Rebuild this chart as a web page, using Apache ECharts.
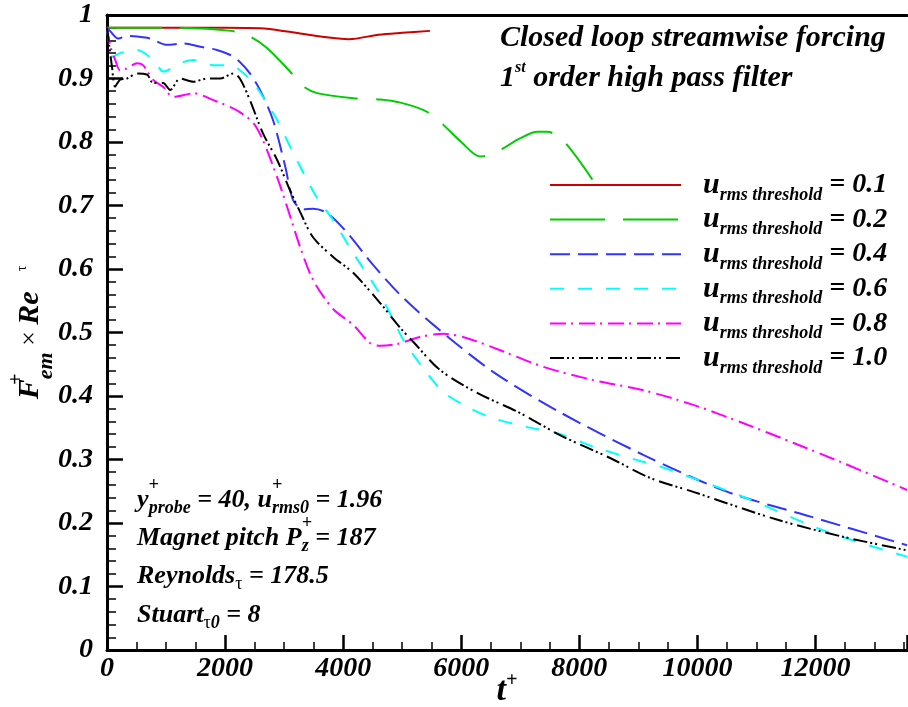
<!DOCTYPE html>
<html><head><meta charset="utf-8">
<script src="https://cdn.jsdelivr.net/npm/echarts@6/dist/echarts.min.js"></script>
<style>html,body{margin:0;padding:0;background:#fff}#c{width:908px;height:707px}</style>
</head><body><div id="c"></div>
<script>
// ---- data ----
const thresholds = ['0.1', '0.2', '0.4', '0.6', '0.8', '1.0'];
const seriesNames = thresholds.map(t => 'urms threshold = ' + t);
const xTickInterval = 2000;
const yTickInterval = 0.1;

const d01 = [[0,0.98],[1000,0.98],[2000,0.98],[2600,0.979],[3050,0.974],[3550,0.967],[4100,0.962],[4600,0.969],[5000,0.972],[5470,0.975]];
const d02 = [[0,0.98],[1000,0.98],[2100,0.975],[2420,0.966],[2710,0.948],[3100,0.911],[3320,0.888],[3560,0.877],[4170,0.869],[4630,0.867],[4970,0.862],[5390,0.849],[5640,0.832],[6000,0.800],[6320,0.777],[6630,0.786],[7000,0.806],[7290,0.816],[7460,0.816],[7730,0.802],[8220,0.741]];
const d04 = [[0,0.98],[50,0.975],[190,0.963],[340,0.967],[510,0.966],[730,0.963],[1020,0.953],[1290,0.955],[1580,0.950],[1860,0.945],[2090,0.937],[2250,0.926],[2420,0.908],[2590,0.882],[2810,0.835],[3020,0.761],[3150,0.709],[3320,0.694],[3490,0.695],[3730,0.688],[4070,0.657],[4510,0.606],[4970,0.559],[5530,0.512],[6540,0.438],[7680,0.374],[9090,0.307],[10510,0.249],[11920,0.210],[13550,0.165]];
const d06 = [[0,0.98],[100,0.934],[220,0.940],[340,0.942],[510,0.945],[680,0.937],[850,0.921],[950,0.911],[1240,0.924],[1460,0.929],[1800,0.921],[2090,0.921],[2250,0.913],[2480,0.893],[2710,0.861],[2880,0.835],[3100,0.793],[3390,0.740],[3560,0.712],[3830,0.677],[4170,0.625],[4580,0.567],[4850,0.520],[5020,0.488],[5420,0.436],[5700,0.406],[6100,0.383],[6540,0.365],[7120,0.351],[7680,0.340],[8240,0.320],[9090,0.296],[9370,0.289],[10780,0.241],[12200,0.186],[13550,0.147]];
const d08 = [[0,0.98],[60,0.95],[140,0.929],[220,0.913],[340,0.916],[510,0.924],[610,0.921],[780,0.898],[950,0.887],[1120,0.871],[1360,0.875],[1460,0.877],[1800,0.866],[2090,0.855],[2250,0.847],[2480,0.830],[2640,0.803],[2880,0.745],[3050,0.698],[3270,0.635],[3490,0.583],[3830,0.537],[4170,0.512],[4460,0.483],[4630,0.479],[4920,0.482],[5300,0.493],[5700,0.498],[6100,0.491],[6660,0.472],[7390,0.446],[8240,0.425],[9090,0.409],[9930,0.386],[10780,0.357],[11630,0.326],[12480,0.294],[13550,0.252]];
const d10 = [[0,0.98],[40,0.95],[85,0.918],[136,0.887],[220,0.898],[340,0.900],[510,0.908],[680,0.906],[780,0.893],[950,0.893],[1070,0.882],[1240,0.900],[1460,0.895],[1700,0.900],[1920,0.900],[2140,0.908],[2250,0.900],[2420,0.866],[2640,0.814],[2880,0.772],[3100,0.724],[3270,0.690],[3490,0.650],[3830,0.619],[4170,0.594],[4630,0.546],[4970,0.507],[5190,0.485],[5640,0.441],[6270,0.405],[7000,0.373],[7680,0.338],[8530,0.302],[9200,0.271],[9930,0.249],[11360,0.205],[12480,0.178],[13550,0.157]];
const allData = [d01, d02, d04, d06, d08, d10];

// ---- styles ----
const colors = ['#cc0000', '#00cc00', '#3333ff', '#00ffff', '#ff00ff', '#000000'];
const dashes = ['solid', [55, 18], [20, 8], [14, 14], [16, 5, 2, 6], [14, 3, 2, 3, 2, 5]];
const FF = "'Liberation Serif', 'Times New Roman', serif";
const bi = {fontFamily: FF, fontWeight: 'bold', fontStyle: 'italic', color: '#000'};
const biz = {fontFamily: FF, fontWeight: 'bold', fontStyle: 'italic', fill: '#000'};

const chart = echarts.init(document.getElementById('c'));

const annRich = {
  m: Object.assign({fontSize: 26, lineHeight: 30}, biz),
  sup: Object.assign({fontSize: 18, lineHeight: 10, width: 0.1, padding: [0, 0, 29, 0]}, biz),
  sub: Object.assign({fontSize: 18, lineHeight: 10, padding: [16, 0, 0, 0]}, biz),
  g: {fontSize: 18, lineHeight: 10, fontFamily: FF, fill: '#000', padding: [16, 0, 0, 0]}
};

const option = {
  animation: false,
  backgroundColor: '#fff',
  grid: {left: 107, right: 1, top: 15, bottom: 57, containLabel: false, outerBoundsMode: 'none'},
  xAxis: [{
    type: 'value', min: 0, max: 13550, interval: xTickInterval, position: 'bottom',
    axisLine: {onZero: false, lineStyle: {color: '#000', width: 3}},
    axisTick: {inside: true, length: 15, lineStyle: {color: '#000', width: 2.5}},
    minorTick: {show: true, splitNumber: 4, length: 8, lineStyle: {color: '#000', width: 1.5}},
    splitLine: {show: false},
    axisLabel: Object.assign({fontSize: 28, margin: 5, showMaxLabel: false, formatter: v => String(v)}, bi),
    name: '{t|t}{p|+}', nameLocation: 'middle', nameGap: 21, nameMoveOverlap: false,
    nameTextStyle: {rich: {
      t: Object.assign({fontSize: 34, lineHeight: 40}, bi),
      p: Object.assign({fontSize: 20, lineHeight: 10, padding: [0, 0, 20, 0]}, bi)
    }}
  }, {
    type: 'value', min: 0, max: 13550, position: 'top',
    axisLine: {show: true, onZero: false, lineStyle: {color: '#000', width: 3}},
    axisTick: {show: false}, axisLabel: {show: false}, splitLine: {show: false}
  }],
  yAxis: {
    type: 'value', min: 0, max: 1, interval: yTickInterval,
    axisLine: {show: true, onZero: false, lineStyle: {color: '#000', width: 3}},
    axisTick: {show: true, inside: true, length: 16, lineStyle: {color: '#000', width: 2.5}},
    minorTick: {show: true, splitNumber: 5, length: 9, lineStyle: {color: '#000', width: 1.5}},
    splitLine: {show: false},
    axisLabel: Object.assign({fontSize: 28, margin: 14, formatter: v => (v === 0 ? '0' : (Math.abs(v - 1) < 1e-9 ? '1' : v.toFixed(1)))}, bi),
    name: '{F|F}{p|+}{em|em}{x| × }{F|Re}{tau|τ}', nameLocation: 'middle', nameRotate: 90, nameGap: 55, nameMoveOverlap: false,
    nameTextStyle: {rich: {
      F: Object.assign({fontSize: 30, lineHeight: 44}, bi),
      p: Object.assign({fontSize: 20, lineHeight: 10, width: 0.1, padding: [0, 0, 26, 0]}, bi),
      em: Object.assign({fontSize: 22, lineHeight: 10, padding: [32, 0, 0, 0]}, bi),
      x: {fontSize: 26, fontFamily: FF, color: '#000', lineHeight: 30},
      tau: {fontSize: 14, fontFamily: FF, color: '#000', lineHeight: 10, padding: [0, 0, 16, 20]}
    }}
  },
  legend: {
    orient: 'vertical', left: 549, top: 166, padding: 0,
    itemWidth: 131, itemHeight: 10, itemGap: -3.4, selectedMode: false,
    itemStyle: {opacity: 0},
    data: seriesNames,
    formatter: name => '{u|u}{s|rms threshold}{e| = ' + name.split('= ')[1] + '}',
    textStyle: {rich: {
      u: Object.assign({fontSize: 30, lineHeight: 30, padding: [0, 0, 0, 17]}, bi),
      s: Object.assign({fontSize: 18, lineHeight: 10, padding: [20, 0, 0, 0]}, bi),
      e: Object.assign({fontSize: 28, lineHeight: 30}, bi)
    }}
  },
  series: seriesNames.map((n, i) => ({
    type: 'line', name: n, data: allData[i], symbol: 'none', showSymbol: false,
    smooth: 0.3, clip: true,
    lineStyle: {color: colors[i], width: 2, type: dashes[i]},
    itemStyle: {color: colors[i]}
  })),
  graphic: [
    {type: 'text', x: 500, y: 38, style: {text: 'Closed loop streamwise forcing', font: 'italic bold 30px ' + FF, fill: '#000', verticalAlign: 'middle'}},
    {type: 'text', x: 500, y: 78, style: {text: '{m|1}{s|st}{m| order high pass filter}', verticalAlign: 'middle',
      rich: {m: Object.assign({fontSize: 30, lineHeight: 34}, biz), s: Object.assign({fontSize: 16, lineHeight: 10, padding: [0, 0, 20, 0]}, biz)}}},
    {type: 'text', x: 137, y: 500, style: {text: '{m|y}{sup|+}{sub|probe}{m| = 40, u}{sup|+}{sub|rms0}{m| = 1.96}', rich: annRich, verticalAlign: 'middle'}},
    {type: 'text', x: 137, y: 538, style: {text: '{m|Magnet pitch P}{sup|+}{sub|z}{m| = 187}', rich: annRich, verticalAlign: 'middle'}},
    {type: 'text', x: 137, y: 576, style: {text: '{m|Reynolds}{g|τ}{m| = 178.5}', rich: annRich, verticalAlign: 'middle'}},
    {type: 'text', x: 137, y: 615, style: {text: '{m|Stuart}{g|τ}{sub|0}{m| = 8}', rich: annRich, verticalAlign: 'middle'}}
  ]
};
chart.setOption(option);
</script>
</body></html>
